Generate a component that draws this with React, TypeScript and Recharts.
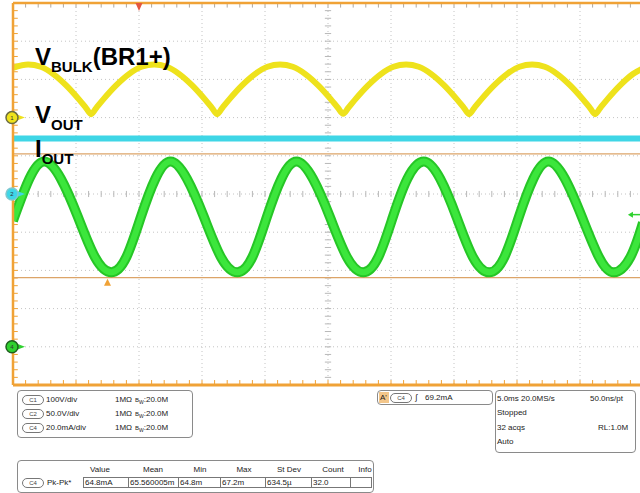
import React from "react";
import { LineChart, Line, XAxis, YAxis, CartesianGrid, ReferenceLine, ReferenceDot } from "recharts";

// ---- Channel 1: V_BULK (V), 100 V/div ----
const vbulkTimeMs = [
  0, 1.2, 2.2, 3.2, 4.2, 5.2, 5.8,
  6.2, 6.6, 7.2, 8.2, 9.2, 10.2, 11.2, 12.2, 13.2, 14.2, 15.2, 15.8,
  16.2, 16.6, 17.2, 18.2, 19.2, 20.2, 21.2, 22.2, 23.2, 24.2, 25.2, 25.8,
  26.2, 26.6, 27.2, 28.2, 29.2, 30.2, 31.2, 32.2, 33.2, 34.2, 35.2, 35.8,
  36.2, 36.6, 37.2, 38.2, 39.2, 40.2, 41.2, 42.2, 43.2, 44.2, 45.2, 45.8,
  46.2, 46.6, 47.2, 48.2, 49.2, 50,
];
const vbulkVolts = [
  130, 139, 133, 114, 85, 49, 25,
  9, 25, 49, 85, 114, 133, 139, 133, 114, 85, 49, 25,
  9, 25, 49, 85, 114, 133, 139, 133, 114, 85, 49, 25,
  10, 25, 49, 85, 114, 133, 139, 133, 114, 85, 49, 25,
  9, 25, 49, 85, 114, 133, 139, 133, 114, 85, 49, 25,
  9, 25, 49, 85, 114, 129,
];

// ---- Channel 2: V_OUT (V), 50 V/div ----
const voutTimeMs = [0, 50];
const voutVolts = [72.6, 72.6];

// ---- Channel 4: I_OUT (mA), 20 mA/div ----
const ioutTimeMs = [
  0, 1.3,
  2.5, 3.8, 5.15, 6.5, 7.8, 9.0, 10.15, 11.3,
  12.5, 13.8, 15.15, 16.5, 17.8, 19.0, 20.15, 21.3,
  22.5, 23.8, 25.15, 26.5, 27.8, 29.0, 30.15, 31.3,
  32.6, 33.9, 35.2, 36.5, 37.8, 39.0, 40.15, 41.3,
  42.5, 43.8, 45.15, 46.5, 47.7, 49.0, 50,
];
const ioutMilliAmps = [
  66, 88,
  97, 88, 68, 47, 39, 47, 68, 88,
  97, 88, 68, 47, 39, 47, 68, 88,
  97, 88, 68, 47, 39, 47, 68, 88,
  97, 88, 68, 47, 39, 47, 68, 88,
  97, 88, 68, 47, 39, 47, 65,
];

// cursors / trigger (C4 units)
const cursorLevelsMa = [101.0, 36.2];
const triggerLevelMa = 69.2;
const triggerTimeMs = 10;

// graticule (time in ms, vertical in C4 mA: 20 mA per division, -20 .. 180)
const majorTimeTicksMs = [0, 5, 10, 15, 20, 25, 30, 35, 40, 45, 50];
const majorMaTicks = [-20, 0, 20, 40, 60, 80, 100, 120, 140, 160, 180];
const minorTimeTicksMs = Array.from({ length: 51 }, (_, i) => i);
const minorMaTicks = Array.from({ length: 51 }, (_, i) => -20 + i * 4);
const GRID_BOTTOM = -20;
const GRID_TOP = 180;
const GRID_MID_Y = 80;
const GRID_MID_X = 25;

const vbulkData = vbulkTimeMs.map((t, i) => ({ t, v: vbulkVolts[i] }));
const voutData = voutTimeMs.map((t, i) => ({ t, v: voutVolts[i] }));
const ioutData = ioutTimeMs.map((t, i) => ({ t, v: ioutMilliAmps[i] }));

const ORANGE = "#f0a236";
const FONT = "Arial, 'Liberation Sans', Helvetica, sans-serif";

const channelMarker = (fill: string, ring: string, label: string) => (props: any) => {
  const { cx, cy } = props;
  return (
    <g>
      <polygon points={`${cx + 4},${cy - 3} ${cx + 12},${cy} ${cx + 4},${cy + 3}`} fill={fill} />
      <circle cx={cx - 1} cy={cy} r={6} fill={fill} stroke={ring} strokeWidth={1.5} />
      <text x={cx - 1} y={cy + 2} fontSize={6} textAnchor="middle" fill="#333" fontFamily={FONT}>{label}</text>
    </g>
  );
};

const TopTrigger = (props: any) => {
  const { cx, cy } = props;
  return <polygon points={`${cx - 3.5},${cy} ${cx + 3.5},${cy} ${cx},${cy + 8}`} fill="#e4573f" />;
};
const CursorMark = (props: any) => {
  const { cx, cy } = props;
  return <polygon points={`${cx},${cy + 1} ${cx - 3.5},${cy + 8} ${cx + 3.5},${cy + 8}`} fill={ORANGE} />;
};
const TrigArrow = (props: any) => {
  const { cx, cy } = props;
  return (
    <g>
      <line x1={cx - 2} y1={cy} x2={cx + 8} y2={cy} stroke="#2fd12f" strokeWidth={1.5} />
      <polygon points={`${cx - 5},${cy} ${cx},${cy - 3} ${cx},${cy + 3}`} fill="#2fd12f" />
    </g>
  );
};

const T = (p: { x: number; y: number; children: React.ReactNode }) => (
  <div
    style={{
      position: "absolute",
      left: p.x,
      top: p.y - 5,
      fontSize: 8,
      lineHeight: "10px",
      color: "#1a1a1a",
      whiteSpace: "nowrap",
      fontFamily: FONT,
    }}
  >
    {p.children}
  </div>
);

const Pill = (p: { x: number; y: number; label: string }) => (
  <div
    style={{
      position: "absolute",
      left: p.x,
      top: p.y - 5,
      width: 22,
      height: 10,
      border: "1px solid #777",
      borderRadius: 6,
      boxSizing: "border-box",
      fontSize: 6,
      lineHeight: "8px",
      textAlign: "center",
      color: "#444",
      fontFamily: FONT,
      background: "#fff",
    }}
  >
    {p.label}
  </div>
);

const Box = (p: { x: number; y: number; w: number; h: number }) => (
  <div
    style={{
      position: "absolute",
      left: p.x,
      top: p.y,
      width: p.w,
      height: p.h,
      border: "1px solid #8a8a8a",
      borderRadius: 4,
      boxSizing: "border-box",
    }}
  />
);

const Cell = (p: { x: number; w: number; text: string }) => (
  <div
    style={{
      position: "absolute",
      left: p.x,
      top: 477,
      width: p.w,
      height: 11,
      border: "1px solid #777",
      boxSizing: "border-box",
      fontSize: 8,
      lineHeight: "9px",
      paddingLeft: 1,
      color: "#1a1a1a",
      fontFamily: FONT,
      whiteSpace: "nowrap",
      overflow: "hidden",
    }}
  >
    {p.text}
  </div>
);

const measHeaders = [
  { label: "Value", x: 100 },
  { label: "Mean", x: 153 },
  { label: "Min", x: 200 },
  { label: "Max", x: 244 },
  { label: "St Dev", x: 289 },
  { label: "Count", x: 333 },
  { label: "Info", x: 365 },
];
const measCells = [
  { x: 83, w: 46, text: "64.8mA" },
  { x: 128, w: 51, text: "65.560005m" },
  { x: 178, w: 43, text: "64.8m" },
  { x: 220, w: 46, text: "67.2m" },
  { x: 265, w: 47, text: "634.5\u00b5" },
  { x: 311, w: 40, text: "32.0" },
  { x: 350, w: 22, text: "" },
];

const BW = () => (
  <span style={{ fontSize: 6 }}>
    B<sub style={{ fontSize: 5 }}>W</sub>
  </span>
);

export default function App() {
  const tickSegs: React.ReactNode[] = [];
  const ax = { xAxisId: "t", yAxisId: "c4", ifOverflow: "visible" as const };
  minorTimeTicksMs.forEach((t, i) => {
    tickSegs.push(
      <ReferenceLine key={`b${i}`} {...ax} segment={[{ x: t, y: GRID_BOTTOM }, { x: t, y: GRID_BOTTOM + 2.6 }]} stroke={ORANGE} strokeWidth={1} />
    );
    tickSegs.push(
      <ReferenceLine key={`tp${i}`} {...ax} segment={[{ x: t, y: GRID_TOP }, { x: t, y: GRID_TOP - 2.4 }]} stroke="#b0a8a0" strokeWidth={1} />
    );
    tickSegs.push(
      <ReferenceLine key={`ch${i}`} {...ax} segment={[{ x: t, y: GRID_MID_Y - 1.6 }, { x: t, y: GRID_MID_Y + 1.6 }]} stroke="#b8b8b8" strokeWidth={1} />
    );
  });
  minorMaTicks.forEach((d, i) => {
    tickSegs.push(
      <ReferenceLine key={`l${i}`} {...ax} segment={[{ x: 0, y: d }, { x: 0.38, y: d }]} stroke={ORANGE} strokeWidth={1} />
    );
    tickSegs.push(
      <ReferenceLine key={`cv${i}`} {...ax} segment={[{ x: GRID_MID_X - 0.25, y: d }, { x: GRID_MID_X + 0.25, y: d }]} stroke="#b8b8b8" strokeWidth={1} />
    );
  });

  return (
    <div style={{ position: "absolute", left: 0, top: 0, width: 640, height: 493, overflow: "hidden", background: "#fff" }}>
      <div style={{ position: "absolute", left: 0, top: 0 }}>
        <LineChart width={656} height={390} margin={{ top: 3, right: 13, bottom: 5, left: 13 }}>
          <XAxis xAxisId="t" type="number" dataKey="t" domain={[0, 50]} ticks={majorTimeTicksMs} interval={0} hide allowDataOverflow />
          <YAxis yAxisId="c1" type="number" domain={[-700, 300]} hide allowDataOverflow />
          <YAxis yAxisId="c2" type="number" domain={[-250, 250]} hide allowDataOverflow />
          <YAxis yAxisId="c4" type="number" domain={[GRID_BOTTOM, GRID_TOP]} ticks={majorMaTicks} interval={0} hide allowDataOverflow />
          <CartesianGrid xAxisId="t" yAxisId="c4" stroke="#c4c4c4" strokeDasharray="1 3" />

          {tickSegs}

          {cursorLevelsMa.map((c, i) => (
            <ReferenceLine key={`cur${i}`} xAxisId="t" yAxisId="c4" y={c} stroke="#dca468" strokeWidth={1.2} />
          ))}

          <Line xAxisId="t" yAxisId="c1" data={vbulkData} dataKey="v" type="monotone" stroke="#eee21c" strokeWidth={6} dot={false} activeDot={false} isAnimationActive={false} />
          <Line xAxisId="t" yAxisId="c2" data={voutData} dataKey="v" type="linear" stroke="#3fd6e6" strokeWidth={6} dot={false} activeDot={false} isAnimationActive={false} />
          <Line xAxisId="t" yAxisId="c4" data={ioutData} dataKey="v" type="natural" stroke="#26c626" strokeWidth={10} dot={false} activeDot={false} isAnimationActive={false} />
          <Line xAxisId="t" yAxisId="c4" data={ioutData} dataKey="v" type="natural" stroke="#3ce63c" strokeWidth={6} dot={false} activeDot={false} isAnimationActive={false} />

          <ReferenceLine xAxisId="t" yAxisId="c4" x={0} stroke={ORANGE} strokeWidth={2.5} ifOverflow="visible" />
          <ReferenceLine xAxisId="t" yAxisId="c4" y={GRID_BOTTOM} stroke={ORANGE} strokeWidth={3} ifOverflow="visible" />
          <ReferenceLine xAxisId="t" yAxisId="c4" y={GRID_TOP} stroke={ORANGE} strokeWidth={2.5} ifOverflow="visible" />

          <ReferenceDot xAxisId="t" yAxisId="c4" x={triggerTimeMs} y={GRID_TOP} ifOverflow="visible" shape={TopTrigger} />
          <ReferenceDot xAxisId="t" yAxisId="c4" x={7.5} y={cursorLevelsMa[1]} ifOverflow="visible" shape={CursorMark} />
          <ReferenceDot xAxisId="t" yAxisId="c4" x={49.2} y={triggerLevelMa} ifOverflow="visible" shape={TrigArrow} />
          <ReferenceDot xAxisId="t" yAxisId="c1" x={0} y={0} ifOverflow="visible" shape={channelMarker("#eee21c", "#6b6b40", "1")} />
          <ReferenceDot xAxisId="t" yAxisId="c2" x={0} y={0} ifOverflow="visible" shape={channelMarker("#3fd6e6", "#7fc8d0", "2")} />
          <ReferenceDot xAxisId="t" yAxisId="c4" x={0} y={0} ifOverflow="visible" shape={channelMarker("#2fd12f", "#1f5f1f", "4")} />
        </LineChart>
      </div>

      <svg width={640} height={390} style={{ position: "absolute", left: 0, top: 0, pointerEvents: "none" }}>
        <g fontFamily={FONT} fontWeight="bold" fill="#000">
          <text x={35} y={65} fontSize={24}>
            V<tspan fontSize={15} dy={7}>BULK</tspan>
            <tspan fontSize={24} dy={-7}>(BR1+)</tspan>
          </text>
          <text x={35} y={123} fontSize={24}>
            V<tspan fontSize={15} dy={7}>OUT</tspan>
          </text>
          <text x={35} y={157} fontSize={24}>
            I<tspan fontSize={15} dy={7}>OUT</tspan>
          </text>
        </g>
      </svg>

      {/* channel settings box */}
      <Box x={17} y={390} w={176} h={48} />
      <Pill x={22} y={400} label="C1" />
      <T x={46} y={400}>100V/div</T>
      <T x={115} y={400}>1MΩ</T>
      <T x={135} y={400}><BW />:20.0M</T>
      <Pill x={22} y={414} label="C2" />
      <T x={46} y={414}>50.0V/div</T>
      <T x={115} y={414}>1MΩ</T>
      <T x={135} y={414}><BW />:20.0M</T>
      <Pill x={22} y={428} label="C4" />
      <T x={46} y={428}>20.0mA/div</T>
      <T x={115} y={428}>1MΩ</T>
      <T x={135} y={428}><BW />:20.0M</T>

      {/* trigger box */}
      <Box x={377} y={390} w={116} h={15} />
      <div style={{ position: "absolute", left: 379, top: 392, width: 10, height: 11, background: "#f3c68a" }} />
      <T x={380} y={398}>A'</T>
      <Pill x={390} y={398} label="C4" />
      <T x={415} y={398}><span style={{ fontStyle: "italic" }}>∫</span></T>
      <T x={425} y={398}>69.2mA</T>

      {/* timebase box */}
      <Box x={495} y={390} w={141} h={63} />
      <T x={497} y={399}>5.0ms</T>
      <T x={521} y={399}>20.0MS/s</T>
      <T x={590} y={399}>50.0ns/pt</T>
      <T x={497} y={413}>Stopped</T>
      <T x={497} y={428}>32 acqs</T>
      <T x={598} y={428}>RL:1.0M</T>
      <T x={497} y={442}>Auto</T>

      {/* measurement box */}
      <Box x={17} y={460} w={357} h={33} />
      {measHeaders.map((h) => (
        <div key={h.label} style={{ position: "absolute", left: h.x - 20, top: 465, width: 40, textAlign: "center", fontSize: 8, lineHeight: "10px", color: "#1a1a1a", fontFamily: FONT }}>
          {h.label}
        </div>
      ))}
      <Pill x={22} y={483} label="C4" />
      <T x={47} y={483}>Pk-Pk*</T>
      {measCells.map((c, i) => (
        <Cell key={i} x={c.x} w={c.w} text={c.text} />
      ))}
    </div>
  );
}
